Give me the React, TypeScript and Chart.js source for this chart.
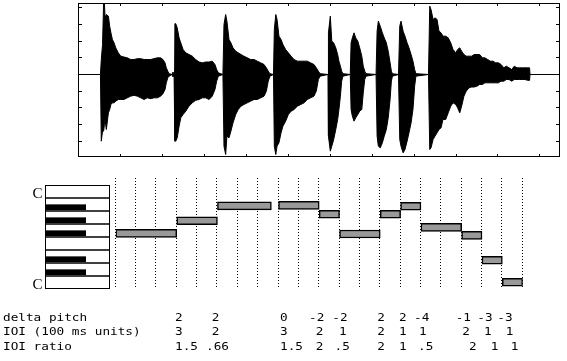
import React, { useEffect, useRef } from 'react';
import { Chart, registerables } from 'chart.js';

Chart.register(...registerables);

// ---------- waveform (time in s, amplitude normalised) ----------
const waveTime = [
  0, 0.107, 0.111, 0.117, 0.122, 0.126, 0.129, 0.135, 0.145, 0.151, 0.157, 0.164, 0.172, 0.180, 0.192, 0.204,
  0.219, 0.235, 0.251, 0.267, 0.283, 0.299, 0.315, 0.330, 0.347, 0.362, 0.378, 0.394, 0.405, 0.415, 0.421, 0.428,
  0.434, 0.448, 0.453, 0.458,
  0.462, 0.466, 0.473, 0.482, 0.490, 0.501, 0.514, 0.529, 0.545, 0.561, 0.577, 0.593, 0.609, 0.625, 0.640, 0.653,
  0.661, 0.669, 0.691,
  0.696, 0.704, 0.710, 0.720, 0.729, 0.739, 0.752, 0.764, 0.777, 0.791, 0.807, 0.823, 0.839, 0.855, 0.871, 0.887,
  0.898, 0.907, 0.915, 0.932,
  0.936, 0.943, 0.949, 0.958, 0.968, 0.977, 0.990, 1.003, 1.016, 1.030, 1.046, 1.062, 1.078, 1.093, 1.109, 1.125,
  1.136, 1.146, 1.154, 1.192,
  1.194, 1.203, 1.210, 1.219, 1.229, 1.238, 1.244, 1.251, 1.257, 1.263, 1.298,
  1.302, 1.308, 1.316, 1.324, 1.334, 1.343, 1.353, 1.360, 1.367, 1.373, 1.421,
  1.426, 1.432, 1.441, 1.451, 1.460, 1.470, 1.479, 1.488, 1.494, 1.499, 1.528,
  1.534, 1.540, 1.550, 1.559, 1.569, 1.578, 1.588, 1.597, 1.605, 1.611, 1.671,
  1.677, 1.683, 1.693, 1.702, 1.712, 1.721, 1.731, 1.740, 1.753, 1.765, 1.777, 1.788, 1.801, 1.810, 1.820, 1.829,
  1.840, 1.851, 1.864, 1.877, 1.889, 1.902, 1.915, 1.928, 1.940, 1.953, 1.966, 1.979, 1.991, 2.004, 2.017, 2.030,
  2.042, 2.055, 2.068, 2.080, 2.093, 2.106, 2.118, 2.131, 2.144, 2.153, 2.155, 2.298,
];
const waveMax = [
  0, 0, 0.18, 0.36, 0.86, 0.86, 0.68, 0.72, 0.70, 0.58, 0.50, 0.42, 0.38, 0.32, 0.26, 0.22,
  0.21, 0.20, 0.18, 0.18, 0.19, 0.19, 0.18, 0.18, 0.18, 0.19, 0.20, 0.20, 0.18, 0.14, 0.08, 0.04,
  0.01, 0, 0.03, 0,
  0.61, 0.61, 0.56, 0.44, 0.38, 0.30, 0.26, 0.24, 0.22, 0.18, 0.15, 0.14, 0.15, 0.15, 0.16, 0.12,
  0.06, 0.02, 0,
  0.60, 0.72, 0.64, 0.42, 0.38, 0.32, 0.28, 0.26, 0.24, 0.22, 0.20, 0.18, 0.18, 0.16, 0.14, 0.12,
  0.08, 0.04, 0.01, 0,
  0.54, 0.72, 0.66, 0.46, 0.42, 0.36, 0.30, 0.26, 0.22, 0.18, 0.16, 0.16, 0.16, 0.16, 0.14, 0.12,
  0.08, 0.04, 0.01, 0,
  0.50, 0.70, 0.40, 0.38, 0.32, 0.24, 0.16, 0.10, 0.04, 0.01, 0,
  0.38, 0.44, 0.50, 0.44, 0.40, 0.32, 0.22, 0.10, 0.04, 0.01, 0,
  0.52, 0.64, 0.58, 0.50, 0.44, 0.38, 0.28, 0.14, 0.04, 0.01, 0,
  0.58, 0.64, 0.52, 0.46, 0.38, 0.32, 0.24, 0.16, 0.06, 0.01, 0,
  0.82, 0.78, 0.66, 0.68, 0.66, 0.52, 0.50, 0.46, 0.46, 0.44, 0.38, 0.30, 0.26, 0.30, 0.32, 0.28,
  0.24, 0.22, 0.22, 0.22, 0.24, 0.24, 0.24, 0.20, 0.20, 0.18, 0.16, 0.16, 0.14, 0.14, 0.12, 0.08,
  0.10, 0.08, 0.06, 0.10, 0.08, 0.08, 0.08, 0.08, 0.08, 0.08, 0, 0,
];
const waveMin = [
  0, 0, -0.80, -0.68, -0.68, -0.60, -0.54, -0.66, -0.46, -0.42, -0.36, -0.34, -0.34, -0.32, -0.30, -0.30,
  -0.30, -0.28, -0.26, -0.25, -0.26, -0.28, -0.30, -0.28, -0.29, -0.28, -0.28, -0.26, -0.23, -0.18, -0.10, -0.04,
  -0.02, 0, -0.03, 0,
  -0.80, -0.80, -0.76, -0.62, -0.52, -0.48, -0.44, -0.38, -0.34, -0.31, -0.30, -0.28, -0.28, -0.30, -0.26, -0.18,
  -0.08, -0.02, 0,
  -0.86, -0.96, -0.74, -0.76, -0.68, -0.58, -0.48, -0.42, -0.38, -0.36, -0.34, -0.32, -0.30, -0.30, -0.28, -0.26,
  -0.20, -0.08, -0.02, 0,
  -0.86, -0.96, -0.86, -0.82, -0.70, -0.62, -0.56, -0.48, -0.44, -0.42, -0.38, -0.36, -0.34, -0.30, -0.28, -0.26,
  -0.20, -0.06, -0.02, 0,
  -0.74, -0.92, -0.86, -0.78, -0.66, -0.54, -0.42, -0.26, -0.08, -0.02, 0,
  -0.42, -0.50, -0.56, -0.52, -0.48, -0.44, -0.42, -0.22, -0.06, -0.02, 0,
  -0.74, -0.86, -0.88, -0.82, -0.74, -0.66, -0.52, -0.30, -0.08, -0.02, 0,
  -0.78, -0.86, -0.94, -0.90, -0.80, -0.70, -0.58, -0.42, -0.14, -0.02, 0,
  -0.90, -0.88, -0.78, -0.74, -0.70, -0.66, -0.64, -0.54, -0.54, -0.46, -0.38, -0.34, -0.36, -0.40, -0.46, -0.38,
  -0.26, -0.20, -0.16, -0.15, -0.15, -0.14, -0.12, -0.12, -0.10, -0.10, -0.10, -0.10, -0.10, -0.10, -0.08, -0.08,
  -0.06, -0.06, -0.08, -0.06, -0.06, -0.06, -0.06, -0.06, -0.07, -0.07, 0, 0,
];
const waveXTicks = [0.2, 0.4, 0.6, 0.8, 1.0, 1.2, 1.4, 1.6, 1.8, 2.0, 2.2];
const waveYTicks = [-0.8, -0.6, -0.4, -0.2, 0, 0.2, 0.4, 0.6, 0.8];

// ---------- piano roll (time in 100 ms units, pitch in semitones above low C) ----------
const noteStart = [0, 3, 5, 8, 10, 11, 13, 14, 15, 17, 18, 19];
const noteEnd = [3, 5, 7.65, 10, 11, 13, 14, 15, 17, 18, 19, 20];
const notePitch = [6.46, 8.03, 9.9, 9.96, 8.84, 6.38, 8.84, 9.84, 7.21, 6.21, 3.09, 0.34];
const gridTimes = [0, 1, 2, 3, 4, 5, 6, 7, 8, 9, 10, 11, 12, 13, 14, 15, 16, 17, 18, 19, 20];
const keyLowC = 0;
const keyHighC = 12;
const blackKeyRows = [1, 2, 3, 5, 6];

// ---------- table ----------
const rowLabels = ['delta pitch', 'IOI (100 ms units)', 'IOI ratio'];
const deltaPitch = ['2', '2', '0', '-2', '-2', '2', '2', '-4', '-1', '-3', '-3'];
const ioiUnits = ['3', '2', '3', '2', '1', '2', '1', '1', '2', '1', '1'];
const ioiRatio = ['1.5', '.66', '1.5', '2', '.5', '2', '1', '.5', '2', '1', '1'];

// layout (page px) for the table columns
const colX1 = [175, 211.7, 280, 309, 332.3, 377.3, 399, 414, 455.7, 477.3, 497.3];
const colX2 = [175, 211.7, 280, 315.7, 339, 377.3, 399, 419, 462.3, 484, 505.7];
const colX3 = [175, 206, 280, 315.7, 334.5, 377.3, 399, 418, 469, 490.7, 510.7];
const rowBaselines = [320.5, 335, 349.5];

const PIANO_TOP = 165;

const waveFrame = {
  id: 'waveFrame',
  afterDraw(chart: any) {
    const { ctx, chartArea: a, scales } = chart;
    const x = scales.x, y = scales.y;
    ctx.save();
    ctx.strokeStyle = '#000';
    ctx.lineWidth = 1;
    ctx.strokeRect(Math.round(a.left) + 0.5, Math.round(a.top) + 0.5, Math.round(a.right - a.left) - 1, Math.round(a.bottom - a.top) - 1);
    const L = 3;
    ctx.beginPath();
    for (const t of waveXTicks) {
      const px = Math.round(x.getPixelForValue(t)) + 0.5;
      ctx.moveTo(px, a.top); ctx.lineTo(px, a.top + L);
      ctx.moveTo(px, a.bottom); ctx.lineTo(px, a.bottom - L);
    }
    for (const v of waveYTicks) {
      const py = Math.floor(y.getPixelForValue(v)) + 0.5;
      ctx.moveTo(a.left, py); ctx.lineTo(a.left + L + 1, py);
      ctx.moveTo(a.right, py); ctx.lineTo(a.right - L - 1, py);
    }
    ctx.stroke();
    ctx.restore();
  },
};

function stretchedText(ctx: CanvasRenderingContext2D, s: string, x: number, y: number) {
  ctx.save();
  ctx.translate(x, y);
  ctx.scale(1.27, 1);
  ctx.fillText(s, 0, 0);
  ctx.restore();
}

const pianoDecor = {
  id: 'pianoDecor',
  beforeDatasetsDraw(chart: any) {
    const { ctx, chartArea: a, scales } = chart;
    const x = scales.x;
    ctx.save();
    ctx.strokeStyle = '#000';
    ctx.lineWidth = 1;
    ctx.setLineDash([1, 2]);
    for (const t of gridTimes) {
      const px = Math.round(x.getPixelForValue(t)) - 0.5;
      ctx.beginPath();
      ctx.moveTo(px, a.top);
      ctx.lineTo(px, a.bottom);
      ctx.stroke();
    }
    ctx.restore();
  },
  afterDraw(chart: any) {
    const { ctx, scales } = chart;
    const y = scales.y;
    const kTop = y.getPixelForValue(keyHighC + 0.5);
    const kBot = y.getPixelForValue(keyLowC - 0.5);
    const kL = 45.5, kR = 109.5;
    const rowH = (kBot - kTop) / 8;
    ctx.save();
    ctx.fillStyle = '#fff';
    ctx.fillRect(kL, kTop, kR - kL, kBot - kTop);
    ctx.fillStyle = '#000';
    for (const r of blackKeyRows) {
      const rt = kTop + r * rowH;
      ctx.fillRect(kL, rt + rowH * 0.49, 40.5, rowH * 0.44);
    }
    ctx.strokeStyle = '#000';
    ctx.lineWidth = 1.5;
    for (let i = 1; i < 8; i++) {
      const ly = kTop + i * rowH;
      ctx.beginPath();
      ctx.moveTo(kL, ly);
      ctx.lineTo(kR, ly);
      ctx.stroke();
    }
    ctx.lineWidth = 1;
    ctx.strokeRect(kL, kTop + 0.5, kR - kL, kBot - kTop - 1);

    // C labels
    ctx.fillStyle = '#000';
    ctx.font = '15px "Liberation Serif", "DejaVu Serif", serif';
    ctx.textBaseline = 'alphabetic';
    ctx.textAlign = 'left';
    ctx.fillText('C', 32.5, kTop + rowH - 0.3);
    ctx.fillText('C', 32.5, kBot);

    // table
    ctx.font = '10px "DejaVu Sans Mono", monospace';
    const rows = [deltaPitch, ioiUnits, ioiRatio];
    const cols = [colX1, colX2, colX3];
    for (let r = 0; r < 3; r++) {
      const by = rowBaselines[r] - PIANO_TOP;
      stretchedText(ctx, rowLabels[r], 3, by);
      rows[r].forEach((s, i) => stretchedText(ctx, s, cols[r][i], by));
    }
    ctx.restore();
  },
};

export default function App() {
  const waveRef = useRef<HTMLCanvasElement>(null);
  const pianoRef = useRef<HTMLCanvasElement>(null);

  useEffect(() => {
    const wave = new Chart(waveRef.current!, {
      type: 'line',
      data: {
        datasets: [
          {
            data: waveTime.map((t, i) => ({ x: t, y: waveMax[i] })),
            borderColor: '#000',
            borderWidth: 1,
            pointRadius: 0,
            fill: false,
            tension: 0,
          },
          {
            data: waveTime.map((t, i) => ({ x: t, y: waveMin[i] })),
            borderColor: '#000',
            backgroundColor: '#000',
            borderWidth: 1,
            pointRadius: 0,
            fill: '-1',
            tension: 0,
          },
        ],
      },
      options: {
        responsive: false,
        animation: false,
        events: [],
        layout: { padding: { left: 78, right: 7, top: 3, bottom: 8 } },
        scales: {
          x: { type: 'linear', min: 0, max: 2.298, display: false },
          y: { type: 'linear', min: -0.99, max: 0.858, display: false },
        },
        plugins: { legend: { display: false }, tooltip: { enabled: false } },
      },
      plugins: [waveFrame],
    } as any);

    const piano = new Chart(pianoRef.current!, {
      type: 'bar',
      data: {
        datasets: [
          {
            data: noteStart.map((s, i) => ({ x: [s, noteEnd[i]], y: notePitch[i] })),
            backgroundColor: '#999999',
            borderColor: '#000',
            borderWidth: 1.5,
            borderSkipped: false,
            barThickness: 8,
          },
        ],
      },
      options: {
        indexAxis: 'y',
        responsive: false,
        animation: false,
        events: [],
        layout: { padding: { left: 115.7, right: 44.3, top: 13, bottom: 72 } },
        scales: {
          x: { type: 'linear', min: 0, max: 20, display: false },
          y: { type: 'linear', min: -0.5, max: 13.375, display: false, offset: false },
        },
        plugins: { legend: { display: false }, tooltip: { enabled: false } },
      },
      plugins: [pianoDecor],
    } as any);

    return () => {
      wave.destroy();
      piano.destroy();
    };
  }, []);

  return (
    <div style={{ position: 'absolute', left: 0, top: 0, width: 567, height: 361, background: '#fff', overflow: 'hidden' }}>
      <canvas ref={waveRef} width={567} height={165} style={{ position: 'absolute', left: 0, top: 0, width: 567, height: 165 }} />
      <canvas ref={pianoRef} width={567} height={196} style={{ position: 'absolute', left: 0, top: PIANO_TOP, width: 567, height: 196 }} />
    </div>
  );
}
